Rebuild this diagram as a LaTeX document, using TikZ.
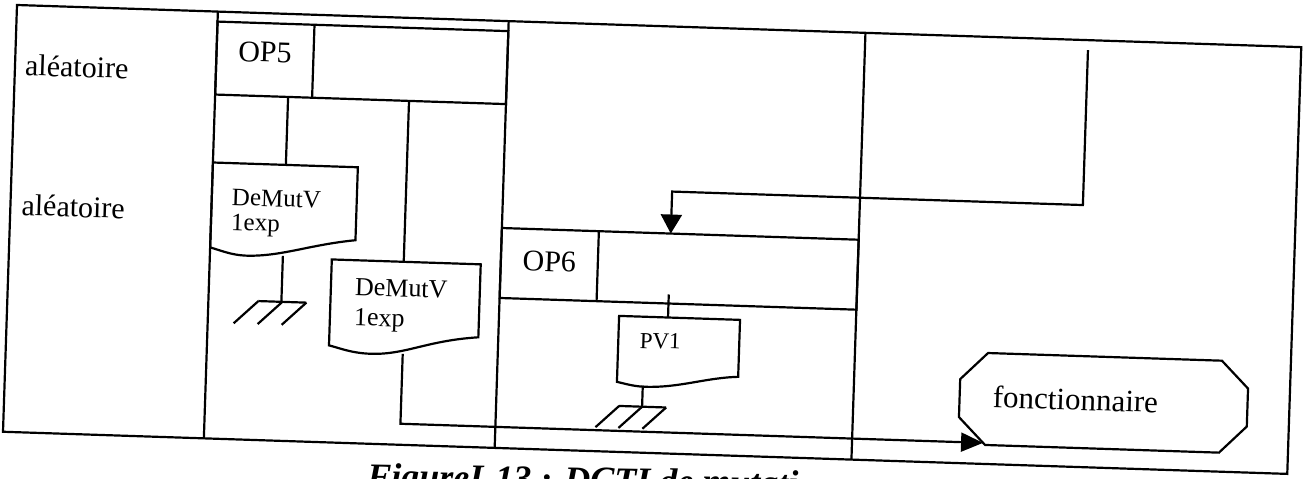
\documentclass[tikz,border=0pt]{standalone}
\usepackage{fontspec}
\setmainfont{Liberation Serif}
\usetikzlibrary{arrows.meta}
\begin{document}
\begin{tikzpicture}[x=1pt,y=1pt,
  ln/.style={line width=2.2pt, line join=miter},
  lbl/.style={font=\fontsize{30}{34}\selectfont, inner sep=0pt},
  dtxt/.style={inner sep=0pt, anchor=base west, align=left},
  arr/.style={ln, -{Triangle[width=21pt,length=19pt]}}]
\useasboundingbox (0,0) rectangle (1304,-479);
\clip (0,0) rectangle (1304,-479);
\begin{scope}[shift={(17,-5)}, rotate=-1.88, transform shape, y=-1pt]
  % frame and columns
  \draw[ln] (0,0) rectangle (1285,427);
  \coordinate (c1t) at (201,0);   \coordinate (c1b) at (201,427);
  \coordinate (c2t) at (492,0);   \coordinate (c2b) at (492,427);
  \coordinate (c3t) at (849,0);   \coordinate (c3b) at (849,427);
  \draw[ln] (c1t) -- (c1b);
  \draw[ln] (c2t) -- (c2b);
  \draw[ln] (c3t) -- (c3b);
  % row labels
  \node[lbl, anchor=base west] (al1) at (10,70) {aléatoire};
  \node[lbl, anchor=base west] (al2) at (11,210) {aléatoire};
  % OP5 block
  \draw[ln] (201,10) rectangle (492,83);
  \draw[ln] (298,10) -- (298,83);
  \node[lbl] (op5) at (249.5,39) {OP5};
  % OP6 block
  \draw[ln] (492,207) rectangle (849,277);
  \draw[ln] (589,207) -- (589,277);
  \node[lbl] (op6) at (540.5,239) {OP6};
  % document DeMutV 1
  \draw[ln] (201,151) -- (346,151) -- (346,224)
     .. controls (300,230) and (272,243) .. (237,243)
     .. controls (222,243) and (210,238) .. (201,236) -- cycle;
  \node[dtxt, font=\fontsize{25}{25}\selectfont] (d1) at (221,218) {DeMutV\\1exp};
  % document DeMutV 2
  \draw[ln] (323,244) -- (472,244) -- (472,317)
     .. controls (420,322) and (400,337) .. (365,337)
     .. controls (345,337) and (333,332) .. (323,330) -- cycle;
  \node[dtxt, font=\fontsize{26}{30}\selectfont] (d2) at (347,309) {DeMutV\\1exp};
  % document PV1
  \draw[ln] (612,291) -- (733,291) -- (733,348)
     .. controls (700,350) and (675,361) .. (640,361)
     .. controls (628,361) and (618,358) .. (612,357) -- cycle;
  \node[font=\fontsize{23}{23}\selectfont, inner sep=0pt] (pv1) at (654,315) {PV1};
  % fonctionnaire octagon
  \draw[ln] (982,316) -- (1216,316) -- (1243,343) -- (1243,381)
     -- (1216,408) -- (982,408) -- (955,381) -- (955,343) -- cycle;
  \node[lbl, font=\fontsize{31}{34}\selectfont, anchor=base west] (fonc) at (988,370) {fonctionnaire};
  % connectors from OP5
  \coordinate (o5a) at (274,83);  \coordinate (d1top) at (274,151);
  \coordinate (o5b) at (395,83);  \coordinate (d2top) at (395,244);
  \draw[ln] (o5a) -- (d1top);
  \draw[ln] (o5b) -- (d2top);
  % ground under DeMutV 1
  \coordinate (g1s) at (274,242); \coordinate (g1) at (274,288);
  \draw[ln] (g1s) -- (g1);
  \draw[ln] (251,288) -- (299,288);
  \draw[ln] (251,288) -- (227,311);
  \draw[ln] (275,288) -- (251,311);
  \draw[ln] (299,288) -- (275,311);
  % DeMutV 2 to fonctionnaire
  \coordinate (d2bot) at (397,336);
  \coordinate (bend2) at (397,406);
  \coordinate (foncin) at (980,406);
  \draw[ln, -{Triangle[width=19pt,length=22pt]}] (d2bot) -- (bend2) -- (foncin);
  % incoming arrow to OP6
  \coordinate (src) at (1072,10);
  \coordinate (bend1) at (1072,165);
  \coordinate (bend1b) at (661,165);
  \coordinate (op6top) at (661,207);
  \draw[arr] (src) -- (bend1) -- (bend1b) -- (op6top);
  % OP6 to PV1
  \coordinate (o6b) at (661,268); \coordinate (pvtop) at (661,291);
  \draw[ln] (o6b) -- (pvtop);
  % ground under PV1
  \coordinate (g2s) at (638,360); \coordinate (g2) at (638,381);
  \draw[ln] (g2s) -- (g2);
  \draw[ln] (615,381) -- (662,381);
  \draw[ln] (615,381) -- (592,403);
  \draw[ln] (638,381) -- (615,403);
  \draw[ln] (662,381) -- (639,403);
\end{scope}
\node[font=\fontsize{36}{40}\selectfont\bfseries\itshape, inner sep=0pt, anchor=base west, rotate=-1.0] (cap) at (367,-488) {FigureI-13 : DCTI de mutati};
\end{tikzpicture}
\end{document}
